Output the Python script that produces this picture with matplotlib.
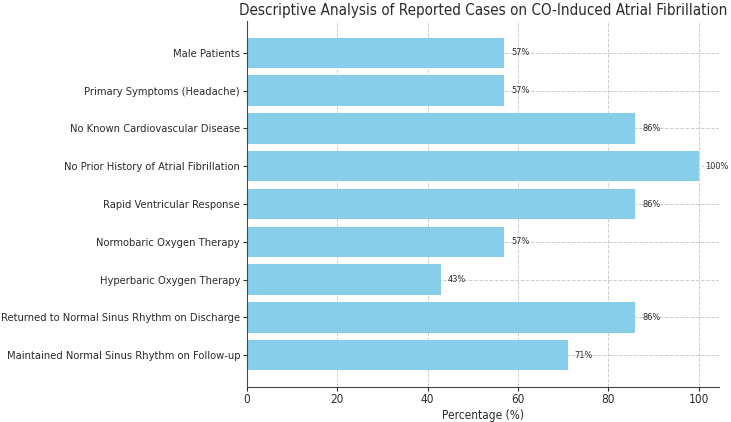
import matplotlib
matplotlib.use("Agg")
import matplotlib.pyplot as plt

# Datos del grafico
categorias = [
    'Male Patients',
    'Primary Symptoms (Headache)',
    'No Known Cardiovascular Disease',
    'No Prior History of Atrial Fibrillation',
    'Rapid Ventricular Response',
    'Normobaric Oxygen Therapy',
    'Hyperbaric Oxygen Therapy',
    'Returned to Normal Sinus Rhythm on Discharge',
    'Maintained Normal Sinus Rhythm on Follow-up',
]
porcentajes = [57, 57, 86, 100, 86, 57, 43, 86, 71]
etiquetas = ['57%', '57%', '86%', '100%', '86%', '57%', '43%', '86%', '71%']

plt.rcParams['font.family'] = ['DejaVu Sans']
plt.rcParams['font.stretch'] = 'condensed'
texto_color = '#2b2b2b'

fig = plt.figure(figsize=(7.31, 4.22), dpi=100)
ax = fig.add_axes([247 / 731, 1 - 387 / 422, (719 - 247) / 731, (387 - 21) / 422])

posiciones = list(range(len(categorias)))
ax.barh(posiciones, porcentajes, color='#87CEEB', height=0.8, zorder=2)
ax.set_yticks(posiciones)
ax.set_yticklabels(categorias, fontsize=8, color=texto_color)
ax.invert_yaxis()

# Valores al final de cada barra
for y, valor, texto in zip(posiciones, porcentajes, etiquetas):
    ax.text(valor + 1.5, y, texto, va='center', ha='left', fontsize=6.6, color=texto_color)

ax.set_xlim(0, 104.5)
ax.set_xticks([0, 20, 40, 60, 80, 100])
ax.tick_params(axis='x', labelsize=8.5, colors=texto_color, length=3, pad=1.5)
ax.tick_params(axis='y', colors=texto_color, length=3, pad=2)
ax.set_xlabel('Percentage (%)', fontsize=8.5, color=texto_color, labelpad=2)

ax.grid(True, linestyle='--', color='#cccccc', linewidth=0.7, zorder=0)
ax.set_axisbelow(True)
for lado in ['top', 'right']:
    ax.spines[lado].set_visible(False)
for lado in ['left', 'bottom']:
    ax.spines[lado].set_color('#444444')

ax.set_title('Descriptive Analysis of Reported Cases on CO-Induced Atrial Fibrillation',
             fontsize=10.9, color=texto_color, pad=4)

plt.savefig('out.png', dpi=100)
plt.close()
